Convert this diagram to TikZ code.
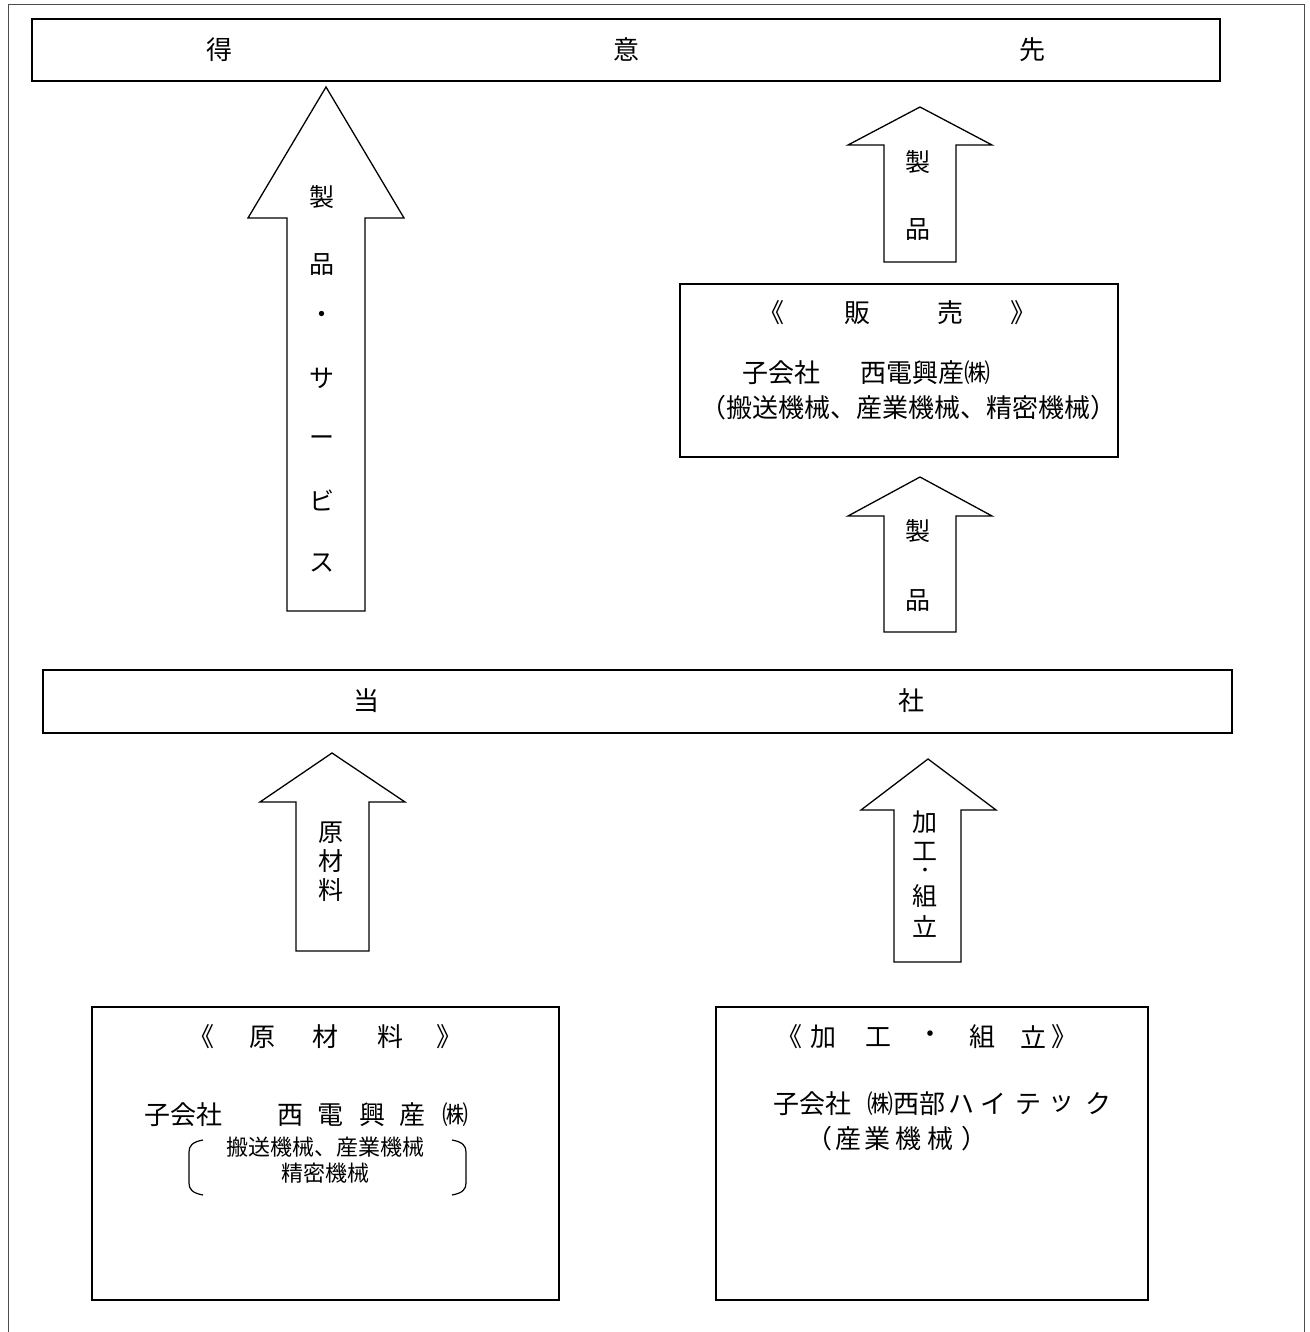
\documentclass[tikz,border=0pt]{standalone}
\usepackage{fontspec}
\setmainfont{Noto Sans CJK JP}
\begin{document}
\begin{tikzpicture}[x=1pt,y=-1pt,
  box/.style={draw=black, line width=1.6pt, rectangle, inner sep=0pt},
  blockarrow/.style={draw=black, line width=1.3pt, fill=white, line join=miter},
  lbl/.style={font=\fontsize{25}{25}\selectfont, inner sep=0pt, anchor=center},
  big/.style={font=\fontsize{26}{26}\selectfont, inner sep=0pt, anchor=center},
  small/.style={font=\fontsize{22}{22}\selectfont, inner sep=0pt, anchor=center},
  dotlbl/.style={font=\fontsize{17}{17}\selectfont, inner sep=0pt, anchor=center},
  frame/.style={draw=black!70, line width=1pt}]
\useasboundingbox (0,0) rectangle (1309,1332);
\draw[frame] (8,1332) -- (8,5) -- (1304,5) -- (1304,1332);

% boxes
\node[box, minimum width=1188pt, minimum height=62pt] (client) at (626,50) {};
\node[box, minimum width=438pt, minimum height=173pt] (sales) at (899,370.5) {};
\node[box, minimum width=1189pt, minimum height=63pt] (company) at (637.5,701.5) {};
\node[box, minimum width=467pt, minimum height=293pt] (raw) at (325.5,1153.5) {};
\node[box, minimum width=432pt, minimum height=293pt] (proc) at (932,1153.5) {};

% client text
\node[big] (c1) at (219,50) {得};
\node[big] (c2) at (626,50) {意};
\node[big] (c3) at (1032,50) {先};

% company text
\node[big] (k1) at (366,701) {当};
\node[big] (k2) at (911,701) {社};

% block arrows
\draw[blockarrow] (326,87) -- (404,218) -- (365,218) -- (365,611) -- (287,611) -- (287,218) -- (248,218) -- cycle;
\draw[blockarrow] (920,107) -- (992,145) -- (956,145) -- (956,262) -- (884,262) -- (884,145) -- (848,145) -- cycle;
\draw[blockarrow] (920,477) -- (992,516) -- (956,516) -- (956,632) -- (884,632) -- (884,516) -- (848,516) -- cycle;
\draw[blockarrow] (332,753) -- (405,802) -- (369,802) -- (369,951) -- (296,951) -- (296,802) -- (260,802) -- cycle;
\draw[blockarrow] (928,759) -- (996,810) -- (961,810) -- (961,962) -- (894,962) -- (894,810) -- (861,810) -- cycle;

% big arrow text
\node[lbl] (b1) at (322,197) {製};
\node[lbl] (b2) at (322,265) {品};
\node[lbl] (b3) at (322,317) {・};
\node[lbl] (b4) at (322,378) {サ};
\node[lbl] (b5) at (322,441) {ー};
\node[lbl] (b6) at (322,500) {ビ};
\node[lbl] (b7) at (322,563) {ス};

% small arrows text
\node[lbl] (t1) at (918,162) {製};
\node[lbl] (t2) at (918,230) {品};
\node[lbl] (m1) at (918,531) {製};
\node[lbl] (m2) at (918,601) {品};

% lower arrows text
\node[font=\fontsize{25}{29}\selectfont, inner sep=0pt, align=center] (rtext) at (331,862) {原\\材\\料};
\node[lbl] (p1) at (925,822) {加};
\node[lbl] (p2) at (925,851) {工};
\node[dotlbl] (p3) at (925,872) {・};
\node[lbl] (p4) at (925,896) {組};
\node[lbl] (p5) at (925,926) {立};

% sales box text
\node[big] (s1) at (771,313) {《};
\node[big] (s2) at (857,313) {販};
\node[big] (s3) at (950,313) {売};
\node[big] (s4) at (1023,313) {》};
\node[big] (s5) at (781,373) {子会社};
\node[big] (s5b) at (925,373) {西電興産㈱};
\node[big] (s6) at (908,408) {（搬送機械、産業機械、精密機械）};

% raw materials box text
\node[big] (a1) at (201,1037) {《};
\node[big] (a2) at (262,1037) {原};
\node[big] (a3) at (325,1037) {材};
\node[big] (a4) at (390,1037) {料};
\node[big] (a5) at (449,1037) {》};
\node[big] (a6) at (183,1115) {子会社};
\node[big] (a7) at (290,1115) {西};
\node[big] (a8) at (330,1115) {電};
\node[big] (a9) at (372,1115) {興};
\node[big] (a10) at (412,1115) {産};
\node[big] (a11) at (455,1115) {㈱};
\node[small] (a12) at (325,1147) {搬送機械、産業機械};
\node[small] (a13) at (325,1173) {精密機械};
\draw[line width=1.2pt] (203,1140) .. controls (192,1142) and (189,1146) .. (189,1152) -- (189,1183) .. controls (189,1189) and (192,1193) .. (203,1195);
\draw[line width=1.2pt] (452,1140) .. controls (463,1142) and (466,1146) .. (466,1152) -- (466,1183) .. controls (466,1189) and (463,1193) .. (452,1195);

% processing box text
\node[big] (q1) at (789,1037) {《};
\node[big] (q2) at (823,1037) {加};
\node[big] (q3) at (878,1037) {工};
\node[big] (q4) at (930,1037) {・};
\node[big] (q5) at (982,1037) {組};
\node[big] (q6) at (1033,1037) {立};
\node[big] (q7) at (1064,1037) {》};
\node[big] (q8) at (812,1104) {子会社};
\node[big] (q9) at (906,1104) {㈱西部};
\node[big] (q10) at (961,1104) {ハ};
\node[big] (q11) at (993,1104) {イ};
\node[big] (q12) at (1028,1104) {テ};
\node[big] (q13) at (1061,1104) {ッ};
\node[big] (q14) at (1098,1104) {ク};
\node[big] (q15) at (819,1139) {（};
\node[big] (q16) at (848,1139) {産};
\node[big] (q17) at (877,1139) {業};
\node[big] (q18) at (908,1139) {機};
\node[big] (q19) at (940,1139) {械};
\node[big] (q20) at (974,1139) {）};
\end{tikzpicture}
\end{document}
